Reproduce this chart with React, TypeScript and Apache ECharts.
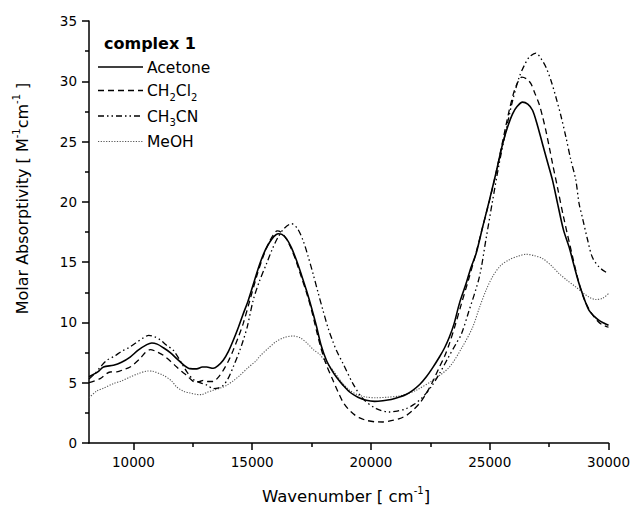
import React, { useEffect, useRef } from 'react';
import * as echarts from 'echarts';

// ---- data (wavenumber in cm^-1, molar absorptivity) ----
const acetoneX = [8130, 8500, 8740, 9160, 9500, 9861, 10200, 10563, 10773, 11000, 11260, 11550, 11823, 12100, 12381, 12663, 12900, 13083, 13360, 13550, 13780, 14000, 14200, 14420, 14620, 14830, 15100, 15321, 15550, 15741, 15900, 16090, 16250, 16443, 16650, 16863, 17080, 17283, 17500, 17703, 17900, 18123, 18330, 18543, 18820, 19101, 19450, 19803, 20150, 20500, 20850, 21201, 21500, 21760, 22050, 22323, 22600, 22881, 23100, 23301, 23500, 23721, 24000, 24200, 24423, 24700, 24981, 25263, 25541, 25750, 25961, 26150, 26381, 26600, 26801, 27000, 27221, 27430, 27641, 27851, 28100, 28341, 28550, 28761, 28970, 29181, 29400, 29601, 29800, 30000];
const acetoneY = [5.5, 5.9, 6.3, 6.45, 6.7, 7.13, 7.7, 8.16, 8.3, 8.2, 7.9, 7.5, 7.0, 6.5, 6.17, 6.15, 6.3, 6.3, 6.2, 6.4, 6.86, 7.6, 8.5, 9.6, 10.7, 11.8, 13.5, 14.87, 16.0, 16.67, 17.1, 17.36, 17.3, 16.95, 16.2, 15.15, 13.9, 12.66, 11.2, 9.7, 8.1, 6.86, 6.1, 5.47, 4.8, 4.23, 3.8, 3.54, 3.45, 3.5, 3.6, 3.81, 4.05, 4.37, 4.85, 5.47, 6.25, 7.13, 7.9, 8.79, 9.9, 11.56, 13.2, 14.5, 15.7, 17.9, 20.1, 22.4, 24.8, 26.2, 27.3, 27.9, 28.27, 28.1, 27.6, 26.4, 24.8, 23.3, 21.8, 19.9, 17.7, 16.25, 14.7, 13.2, 12.0, 11.0, 10.5, 10.17, 9.95, 9.76];

const ch2cl2X = [8130, 8601, 9021, 9303, 9600, 9861, 10281, 10500, 10701, 10950, 11260, 11550, 11823, 12050, 12243, 12400, 12591, 12800, 12940, 13150, 13360, 13550, 13780, 14000, 14200, 14420, 14620, 14901, 15200, 15450, 15700, 15900, 16050, 16200, 16443, 16650, 16863, 17080, 17283, 17500, 17843, 18100, 18400, 18600, 18820, 19030, 19240, 19500, 19803, 20150, 20500, 20850, 21201, 21500, 21760, 22050, 22323, 22600, 22881, 23100, 23301, 23550, 23800, 24100, 24400, 24700, 25000, 25263, 25541, 25821, 26031, 26200, 26350, 26550, 26733, 26900, 27081, 27220, 27363, 27500, 27641, 27851, 28100, 28481, 28750, 29000, 29300, 29550, 29741, 30000];
const ch2cl2Y = [5.0, 5.34, 5.89, 5.9, 6.1, 6.3, 7.0, 7.5, 7.74, 7.6, 7.27, 6.8, 6.3, 5.9, 5.61, 5.3, 5.06, 5.1, 5.2, 5.1, 5.1, 5.4, 6.03, 6.8, 7.69, 8.8, 9.9, 11.83, 13.9, 15.4, 16.6, 17.3, 17.6, 17.5, 16.9, 16.1, 15.0, 13.7, 12.5, 11.0, 8.24, 6.6, 5.2, 4.3, 3.4, 2.85, 2.44, 2.1, 1.88, 1.76, 1.74, 1.85, 2.02, 2.3, 2.71, 3.3, 4.1, 5.1, 6.3, 7.2, 8.24, 9.8, 11.5, 13.5, 15.6, 17.9, 20.2, 22.4, 25.0, 27.6, 29.2, 30.0, 30.35, 30.2, 29.8, 29.0, 28.1, 27.1, 25.9, 24.6, 23.2, 21.2, 18.8, 15.5, 13.3, 11.8, 10.7, 10.1, 9.8, 9.6];

const ch3cnX = [8130, 8400, 8650, 8883, 9200, 9500, 9800, 10100, 10400, 10650, 10900, 11120, 11400, 11680, 12000, 12250, 12500, 12800, 13100, 13360, 13550, 13780, 14000, 14200, 14481, 14620, 14800, 15041, 15300, 15602, 15850, 16090, 16350, 16653, 16900, 17141, 17350, 17560, 17770, 17980, 18200, 18400, 18543, 18820, 19240, 19660, 20223, 20781, 21100, 21483, 21850, 22181, 22550, 22881, 23230, 23583, 23800, 24100, 24561, 24850, 25120, 25400, 25681, 25950, 26241, 26450, 26661, 26943, 27150, 27363, 27570, 27783, 28000, 28203, 28400, 28623, 28761, 28900, 29100, 29320, 29600, 29881, 30000];
const ch3cnY = [5.3, 5.8, 6.4, 6.86, 7.2, 7.6, 7.9, 8.3, 8.7, 8.93, 8.8, 8.57, 8.1, 7.69, 6.72, 5.9, 5.3, 5.0, 4.8, 4.51, 4.55, 4.78, 5.4, 6.3, 7.69, 8.5, 9.7, 11.83, 13.4, 14.87, 16.1, 17.08, 17.8, 18.19, 17.8, 16.8, 15.5, 14.05, 12.5, 11.0, 9.5, 8.4, 7.69, 6.6, 4.93, 3.68, 2.85, 2.57, 2.65, 2.85, 3.25, 3.81, 4.7, 5.75, 7.0, 8.24, 9.0, 10.8, 13.76, 17.0, 20.1, 23.2, 25.9, 28.3, 30.35, 31.3, 32.0, 32.34, 31.9, 31.18, 30.1, 28.7, 27.1, 25.4, 23.6, 21.8, 19.85, 18.7, 17.0, 15.4, 14.6, 14.18, 14.1];

const meohX = [8130, 8450, 8740, 9160, 9500, 9861, 10200, 10600, 10800, 11260, 11600, 11823, 12100, 12381, 12650, 12873, 13100, 13360, 13650, 13923, 14200, 14481, 14800, 15182, 15321, 15700, 16000, 16350, 16720, 17000, 17300, 17600, 17843, 18100, 18400, 18750, 19101, 19450, 19803, 20200, 20700, 21201, 21550, 21903, 22600, 23301, 23843, 24280, 24561, 24850, 25120, 25450, 25821, 26200, 26523, 26850, 27221, 27600, 27921, 28250, 28623, 28900, 29181, 29460, 29750, 30000];
const meohY = [3.75, 4.3, 4.55, 4.93, 5.15, 5.47, 5.75, 5.97, 5.95, 5.61, 5.15, 4.64, 4.3, 4.15, 4.03, 4.01, 4.2, 4.37, 4.55, 4.78, 5.15, 5.61, 6.2, 6.86, 7.2, 7.9, 8.4, 8.75, 8.87, 8.75, 8.3, 7.7, 7.35, 6.7, 6.03, 5.1, 4.37, 4.0, 3.81, 3.75, 3.8, 3.9, 4.1, 4.37, 5.2, 6.3, 7.96, 9.6, 11.2, 12.7, 13.8, 14.7, 15.2, 15.5, 15.65, 15.55, 15.3, 14.7, 14.05, 13.5, 12.94, 12.5, 12.1, 11.9, 12.0, 12.4];

const xMajorTicks = [10000, 15000, 20000, 25000, 30000];
const xMinorTicks = [12500, 17500, 22500, 27500];
const legendTitle = 'complex 1';
const legendRich = ['{m|Acetone}', '{m|CH}{s|2}{m|Cl}{s|2}', '{m|CH}{s|3}{m|CN}', '{m|MeOH}'];
const seriesNames = ['Acetone', 'CH2Cl2', 'CH3CN', 'MeOH'];

const FONT = 'DejaVu Sans';

const styles = [
  { color: '#000', width: 1.6, dash: null as number[] | null },
  { color: '#000', width: 1.3, dash: [6, 4] },
  { color: '#000', width: 1.3, dash: [6, 3, 1.5, 3, 1.5, 3] },
  { color: '#555', width: 1.1, dash: [1.2, 1.5] },
];

const pairs = (xs: number[], ys: number[]) => xs.map((x, i) => [x, ys[i]]);

export default function App() {
  const ref = useRef<HTMLDivElement>(null);
  useEffect(() => {
    if (!ref.current) return;
    const chart = echarts.init(ref.current, undefined, { renderer: 'svg' });
    const datasets = [
      pairs(acetoneX, acetoneY),
      pairs(ch2cl2X, ch2cl2Y),
      pairs(ch3cnX, ch3cnY),
      pairs(meohX, meohY),
    ];
    const legendY = [67, 90.5, 116, 141.5];
    const graphic: any[] = [
      {
        type: 'text', x: 104, y: 43,
        style: { text: legendTitle, font: `bold 16px "${FONT}"`, fill: '#000', verticalAlign: 'middle', textVerticalAlign: 'middle' },
      },
    ];
    legendY.forEach((y, i) => {
      const st = styles[i];
      graphic.push({
        type: 'line',
        shape: { x1: 98, y1: y, x2: 143, y2: y },
        style: { stroke: st.color, lineWidth: st.width, lineDash: st.dash || undefined },
      });
      graphic.push({
        type: 'text', x: 147, y: y + 0.5,
        style: {
          text: legendRich[i],
          rich: {
            m: { fontSize: 15.5, fontFamily: FONT, fill: '#000', lineHeight: 22 },
            s: { fontSize: 10, fontFamily: FONT, fill: '#000', lineHeight: 10, verticalAlign: 'bottom' },
          },
          verticalAlign: 'middle', textVerticalAlign: 'middle', fill: '#000',
        },
      });
    });
    // axis titles
    graphic.push({
      type: 'text', x: 346, y: 496.5,
      style: {
        text: '{m|Wavenumber [ cm}{s|-1}{m|]}',
        rich: {
          m: { fontSize: 16.5, fontFamily: FONT, fill: '#000', lineHeight: 22 },
          s: { fontSize: 10, fontFamily: FONT, fill: '#000', lineHeight: 10, verticalAlign: 'top' },
        },
        align: 'center', textAlign: 'center', verticalAlign: 'middle', textVerticalAlign: 'middle', fill: '#000',
      },
    });
    graphic.push({
      type: 'text', x: 22, y: 198.5, rotation: Math.PI / 2,
      style: {
        text: '{m|Molar Absorptivity [ M}{s|-1}{m|cm}{s|-1}{m| ]}',
        rich: {
          m: { fontSize: 16, fontFamily: FONT, fill: '#000', lineHeight: 22 },
          s: { fontSize: 10, fontFamily: FONT, fill: '#000', lineHeight: 10, verticalAlign: 'top' },
        },
        align: 'center', textAlign: 'center', verticalAlign: 'middle', textVerticalAlign: 'middle', fill: '#000',
      },
    });

    const axisLineStyle = { color: '#000', width: 1.5 };
    const fmt = (v: number) => String(v);
    chart.setOption({
      animation: false,
      textStyle: { fontFamily: FONT },
      grid: { left: 89, right: 24, top: 21, bottom: 65, containLabel: false },
      xAxis: [
        {
          type: 'value', min: 8130, max: 30000,
          axisLine: { show: true, onZero: false, lineStyle: axisLineStyle },
          axisTick: { show: true, customValues: xMajorTicks, length: 7, lineStyle: axisLineStyle },
          axisLabel: { show: true, customValues: xMajorTicks, formatter: fmt, margin: 12, fontSize: 13.5, fontFamily: FONT, color: '#000' },
          splitLine: { show: false },
        },
        {
          type: 'value', min: 8130, max: 30000, position: 'bottom', offset: 0,
          axisLine: { show: true, onZero: false, lineStyle: { color: '#000', width: 0, opacity: 0 } },
          axisTick: { show: true, customValues: xMinorTicks, length: 4, lineStyle: axisLineStyle },
          axisLabel: { show: false },
          splitLine: { show: false },
        },
      ],
      yAxis: [
        {
          type: 'value', min: 0, max: 35, interval: 5,
          axisLine: { show: true, onZero: false, lineStyle: axisLineStyle },
          axisTick: { show: true, length: 7, lineStyle: axisLineStyle },
          minorTick: { show: true, splitNumber: 2, length: 4, lineStyle: axisLineStyle },
          axisLabel: { margin: 12, fontSize: 13.5, fontFamily: FONT, color: '#000', formatter: fmt },
          splitLine: { show: false },
          minorSplitLine: { show: false },
        },
      ],
      series: datasets.map((d, i) => ({
        name: seriesNames[i],
        type: 'line',
        data: d,
        xAxisIndex: 0,
        yAxisIndex: 0,
        showSymbol: false,
        symbol: 'none',
        smooth: 0.3,
        lineStyle: {
          color: styles[i].color,
          width: styles[i].width,
          type: styles[i].dash || 'solid',
        },
        z: 4 - i,
      })),
      graphic,
    });
    return () => chart.dispose();
  }, []);
  return <div ref={ref} style={{ position: 'absolute', left: 0, top: 0, width: 633, height: 508 }} />;
}
